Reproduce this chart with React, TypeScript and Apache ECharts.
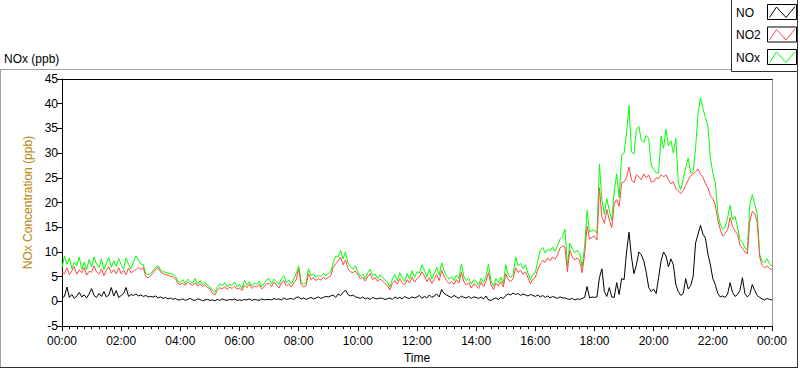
import React, { useEffect, useRef } from "react";
import * as echarts from "echarts";

const STEP_MIN = 5;
const X_TICK_LABELS = ["00:00", "02:00", "04:00", "06:00", "08:00", "10:00", "12:00", "14:00", "16:00", "18:00", "20:00", "22:00", "00:00"];
const SERIES_NAMES = ["NO", "NO2", "NOx"];
const SERIES_COLORS = ["#000000", "#ff4848", "#00ff00"];

// 5-minute values, one row per hour (00:00 ... 23:55), final value at 24:00
const NO = [
  0.7, 1.0, 2.9, 0.8, 1.4, 0.6, 1.1, 1.8, 0.9, 1.3, 0.7, 1.5,
  2.6, 1.2, 0.8, 1.6, 1.0, 2.0, 0.9, 1.3, 2.8, 1.1, 2.2, 0.8,
  1.2, 1.6, 2.8, 1.0, 1.4, 1.2, 1.5, 1.1, 1.3, 1.0, 1.2, 0.9,
  1.0, 0.9, 1.1, 0.7, 0.9, 0.6, 0.8, 0.5, 0.7, 0.4, 0.6, 0.3,
  0.3, 0.5, 0.2, 0.4, 0.6, 0.3, 0.2, 0.5, 0.4, 0.1, 0.3, 0.4,
  0.2, 0.3, 0.1, 0.4, 0.2, 0.5, 0.3, 0.2, 0.4, 0.3, 0.5, 0.2,
  0.3, 0.2, 0.4, 0.3, 0.5, 0.2, 0.4, 0.3, 0.2, 0.5, 0.3, 0.4,
  0.4, 0.3, 0.6, 0.4, 0.5, 0.3, 0.7, 0.4, 0.5, 0.6, 0.4, 0.8,
  0.9, 0.5, 0.7, 0.4, 0.6, 0.8, 0.5, 0.7, 0.9, 0.6, 0.8, 1.0,
  0.9, 1.1, 1.3, 0.8, 1.5, 1.2, 1.8, 2.3, 1.4, 1.1, 1.3, 0.9,
  0.8, 0.6, 0.9, 0.5, 0.7, 0.4, 0.8, 0.6, 0.5, 0.7, 0.6, 0.4,
  0.5, 0.7, 0.4, 0.9, 0.6, 0.8, 0.5, 1.0, 0.7, 0.6, 0.9, 0.7,
  0.9, 1.2, 0.6, 1.0, 0.7, 1.3, 0.8, 1.1, 1.5, 0.9, 2.4, 1.6,
  1.3, 1.0, 0.8, 1.2, 0.9, 0.6, 1.1, 0.8, 0.7, 1.0, 0.6, 0.9,
  0.8, 0.6, 0.9, 0.5, 1.1, 0.3, 0.2, 0.5, 0.7, 0.4, 0.8, 0.6,
  1.2, 1.5, 1.3, 1.7, 1.4, 1.6, 1.2, 1.5, 1.3, 1.1, 1.4, 1.2,
  1.0, 1.3, 0.9, 1.2, 0.8, 1.1, 0.7, 1.0, 0.8, 0.6, 0.9, 0.7,
  0.7, 0.5, 0.4, 0.6, 0.3, 0.5, 0.4, 0.6, 0.8, 3.0, 0.7, 0.9,
  0.8, 0.9, 4.8, 6.6, 2.0, 1.0, 2.8, 0.9, 0.8, 3.8, 1.4, 4.6,
  4.4, 10.0, 14.0, 9.0, 5.6, 7.4, 10.0, 9.4, 8.2, 5.8, 2.8, 2.0,
  2.5, 1.6, 4.8, 8.2, 10.0, 9.2, 7.0, 8.6, 7.4, 3.4, 2.0, 1.2,
  1.6, 4.6, 2.5, 3.2, 5.0, 11.8, 13.6, 15.4, 13.6, 12.8, 9.6, 7.4,
  4.6, 3.4, 1.6, 0.9, 1.1, 0.8, 1.5, 3.8, 1.8, 1.0, 1.4, 2.2,
  4.8, 1.6, 0.9, 1.4, 3.4, 2.2, 1.2, 0.8, 0.5, 0.3, 0.6, 0.4,
  0.3,
];

const NO2 = [
  6.0, 5.6, 6.8, 5.4, 6.2, 7.0, 5.5, 6.4, 5.8, 6.9, 5.3, 6.1,
  5.9, 7.2, 6.0, 5.5, 6.6, 5.2, 6.3, 7.0, 5.7, 6.4, 5.6, 6.8,
  5.6, 6.3, 5.4, 6.8, 5.8, 6.1, 6.4, 6.9, 6.5, 6.8, 5.0, 4.8,
  5.2, 5.8, 6.5, 6.8, 6.0, 5.6, 5.4, 5.3, 5.1, 5.0, 4.6, 3.6,
  3.4, 3.7, 3.2, 3.9, 3.5, 3.3, 3.8, 3.1, 3.6, 3.0, 3.4, 2.8,
  2.6, 1.6, 1.3, 2.2, 2.8, 2.5, 3.0, 2.4, 2.9, 2.6, 3.1, 2.5,
  2.7, 2.2, 3.3, 2.8, 3.5, 2.6, 3.1, 2.9, 3.4, 2.5, 3.0, 3.6,
  3.6, 3.0, 3.9, 3.3, 2.7, 3.8, 4.2, 3.1, 3.6, 2.9, 3.7, 4.4,
  6.5, 3.4, 2.9, 3.2, 5.6, 4.4, 4.8, 4.2, 4.6, 4.3, 4.9, 4.5,
  4.8, 5.2, 6.9, 7.6, 8.2, 9.0, 7.4, 8.4, 6.6, 6.0, 5.8, 6.2,
  5.4, 4.6, 4.9, 4.1, 5.0, 5.6, 4.4, 4.8, 4.0, 4.5, 4.2, 3.6,
  3.2, 2.3, 3.6, 4.2, 3.5, 4.6, 3.8, 3.3, 4.4, 3.7, 4.9, 3.9,
  4.6, 5.0, 6.0, 5.2, 4.0, 4.8, 3.6, 4.5, 5.4, 4.2, 6.3, 5.1,
  4.2, 3.6, 4.0, 3.4, 4.4, 3.7, 5.9, 4.0, 3.3, 3.8, 2.7, 3.5,
  3.3, 2.6, 3.9, 3.0, 4.1, 5.8, 3.4, 2.4, 3.7, 3.1, 4.0, 2.9,
  5.6, 4.4, 4.0, 4.6, 6.8, 5.9, 6.3, 5.5, 6.0, 4.8, 3.6, 4.5,
  4.8, 6.5, 7.6, 8.3, 7.9, 8.8, 8.2, 9.0, 8.5, 9.4, 10.8, 11.2,
  11.0, 6.0, 10.4, 9.0, 8.4, 8.8, 8.2, 5.8, 9.6, 15.2, 12.6, 13.0,
  13.2, 12.4, 23.0, 17.0, 15.8, 18.6, 16.5, 14.9, 19.8, 20.6, 19.2, 24.0,
  24.2, 25.0, 27.2, 24.6, 24.0, 25.6, 25.2, 24.6, 25.8, 25.0, 25.6, 24.2,
  24.2, 25.0, 24.8, 25.6, 25.2, 25.6, 24.6, 23.8, 24.2, 22.8, 22.4, 21.8,
  22.4, 23.5, 24.5, 25.5, 25.8, 26.2, 26.8, 25.8, 25.2, 23.8, 23.0, 21.4,
  20.8, 19.5, 16.5, 14.6, 13.2, 13.8, 14.5, 17.0, 15.2, 14.2, 13.6, 11.4,
  10.8, 10.0, 9.6, 16.2, 18.2, 17.8, 16.0, 9.0, 7.3, 6.8, 7.2, 6.6,
  6.4,
];

const NOX = [
  6.8, 9.2, 7.5, 8.8, 6.6, 8.0, 7.2, 9.0, 6.5, 7.9, 6.4, 8.5,
  7.0, 9.0, 7.6, 6.8, 8.6, 6.4, 7.8, 8.9, 6.9, 8.2, 7.1, 8.7,
  7.4, 6.5, 8.8, 7.5, 6.6, 8.0, 9.2, 8.4, 7.6, 7.4, 5.6, 5.4,
  5.6, 6.3, 6.9, 7.2, 6.4, 6.0, 5.9, 5.7, 5.6, 5.5, 5.1, 4.1,
  3.8, 4.4, 3.6, 4.5, 4.0, 3.7, 4.6, 3.5, 4.2, 3.4, 3.9, 3.2,
  3.0, 2.2, 1.8, 2.8, 3.6, 3.1, 3.8, 2.9, 3.5, 3.2, 3.9, 3.0,
  3.4, 2.6, 4.2, 3.3, 4.0, 3.1, 3.7, 3.4, 4.1, 3.0, 3.6, 4.4,
  4.6, 3.6, 4.5, 3.9, 3.4, 4.6, 5.2, 3.8, 4.3, 3.6, 4.5, 5.6,
  7.2, 4.0, 3.4, 3.8, 6.6, 5.2, 5.5, 4.9, 5.3, 5.0, 5.6, 5.2,
  5.6, 6.0, 7.8, 9.2, 9.0, 10.3, 8.6, 10.0, 7.8, 7.0, 6.5, 7.2,
  6.0, 5.1, 5.5, 4.6, 5.8, 6.5, 5.2, 5.6, 4.6, 5.4, 4.9, 4.3,
  3.9, 2.9, 4.5, 5.4, 4.2, 5.8, 4.7, 4.0, 5.6, 4.5, 6.2, 4.8,
  6.0, 5.8, 7.4, 6.3, 4.9, 6.6, 4.5, 5.6, 6.9, 5.3, 7.8, 6.2,
  5.1, 4.5, 5.0, 4.2, 5.3, 4.6, 7.6, 5.0, 4.2, 4.7, 3.5, 4.4,
  4.1, 3.3, 4.7, 3.8, 5.0, 7.5, 4.2, 3.1, 4.6, 3.8, 4.9, 3.6,
  7.4, 5.3, 4.8, 5.5, 9.0, 7.2, 7.7, 6.6, 7.4, 5.7, 4.4, 5.5,
  5.8, 8.2, 10.4, 10.9, 9.8, 10.6, 10.2, 11.0, 10.1, 11.2, 12.6, 13.0,
  14.6, 7.2, 11.8, 10.6, 9.8, 10.4, 9.6, 7.0, 11.2, 18.4, 14.0, 14.4,
  14.4, 13.8, 27.8, 20.5, 17.6, 20.8, 18.4, 16.4, 22.2, 25.8, 21.0, 29.6,
  30.0, 34.0, 39.6, 30.4, 29.8, 34.8, 35.4, 32.6, 32.2, 33.6, 33.0, 27.4,
  26.8, 26.0, 26.0, 33.5, 31.0, 34.8, 31.5, 32.5, 30.0, 33.0, 24.0, 22.6,
  24.8, 27.0, 29.0, 26.0, 26.2, 31.0, 38.0, 41.2, 39.0, 37.2, 35.5, 29.0,
  26.0, 24.0, 18.0, 15.6, 14.6, 15.0, 17.0, 19.4, 16.5, 17.2, 15.0, 12.5,
  12.0, 10.8, 10.5, 19.5, 21.6, 19.8, 17.6, 9.5, 8.2, 7.8, 8.6, 7.6,
  7.2,
];

const FONT = "'Liberation Sans', Arial, sans-serif";

export default function App() {
  const ref = useRef<HTMLDivElement>(null);

  useEffect(() => {
    const chart = echarts.init(ref.current!, null, { renderer: "svg" });
    const toPairs = (arr: number[]) => arr.map((v, i) => [i * STEP_MIN, v]);
    const seriesData = [NO, NO2, NOX];

    const legendItems: any[] = [];
    SERIES_NAMES.forEach((name, i) => {
      const y0 = 4.5 + i * 22.5;
      legendItems.push({
        type: "text",
        style: { x: 736, y: y0 + 8, text: name, fill: "#000", font: `12px ${FONT}`, verticalAlign: "middle" },
      });
      legendItems.push({
        type: "rect",
        shape: { x: 767.5, y: y0, width: 29, height: 15 },
        style: { fill: "#fff", stroke: "#000", lineWidth: 1 },
      });
      legendItems.push({
        type: "polyline",
        shape: { points: [[769.5, y0 + 13], [776.5, y0 + 2.5], [786, y0 + 13], [795, y0 + 2]] },
        style: { stroke: SERIES_COLORS[i], lineWidth: 1, fill: "none" },
      });
    });

    const option: any = {
      animation: false,
      backgroundColor: "#ffffff",
      textStyle: { fontFamily: FONT },
      grid: { left: 62, right: 28, top: 79, bottom: 40, containLabel: false },
      xAxis: [
        {
          type: "value",
          min: 0,
          max: 1440,
          interval: 120,
          position: "bottom",
          name: "Time",
          nameLocation: "middle",
          nameGap: 25,
          nameTextStyle: { color: "#000", fontSize: 12, fontFamily: FONT },
          axisLine: { show: true, onZero: false, lineStyle: { color: "#000", width: 1 } },
          axisTick: { show: true, length: 5, lineStyle: { color: "#000" } },
          minorTick: { show: true, splitNumber: 8, length: 3, lineStyle: { color: "#000" } },
          axisLabel: {
            color: "#000",
            fontSize: 12,
            fontFamily: FONT,
            margin: 9,
            formatter: (v: number) => X_TICK_LABELS[Math.round(v / 120)] ?? "",
          },
          splitLine: { show: false },
          minorSplitLine: { show: false },
        },
        {
          type: "value",
          min: 0,
          max: 1440,
          position: "top",
          axisLine: { show: true, onZero: false, lineStyle: { color: "#000", width: 1 } },
          axisTick: { show: false },
          axisLabel: { show: false },
          splitLine: { show: false },
        },
      ],
      yAxis: [
        {
          type: "value",
          min: -5,
          max: 45,
          interval: 5,
          position: "left",
          name: "NOx Concentration (ppb)",
          nameLocation: "middle",
          nameGap: 24,
          nameTextStyle: { color: "#b8860b", fontSize: 12, fontFamily: FONT },
          axisLine: { show: true, onZero: false, lineStyle: { color: "#000", width: 1 } },
          axisTick: { show: true, length: 5, lineStyle: { color: "#000" } },
          axisLabel: { color: "#000", fontSize: 12, fontFamily: FONT, margin: 4 },
          splitLine: { show: false },
        },
        {
          type: "value",
          min: -5,
          max: 45,
          position: "right",
          axisLine: { show: true, onZero: false, lineStyle: { color: "#9a9a9a", width: 1 } },
          axisTick: { show: false },
          axisLabel: { show: false },
          splitLine: { show: false },
        },
      ],
      series: [2, 1, 0].map((i) => ({
        name: SERIES_NAMES[i],
        type: "line",
        data: toPairs(seriesData[i]),
        showSymbol: false,
        symbol: "none",
        silent: true,
        lineStyle: { color: SERIES_COLORS[i], width: 1 },
        itemStyle: { color: SERIES_COLORS[i] },
      })),
      graphic: [
        { type: "line", shape: { x1: 0, y1: 69.5, x2: 731, y2: 69.5 }, style: { stroke: "#a0a0a0", lineWidth: 1 } },
        { type: "line", shape: { x1: 0.5, y1: 69.5, x2: 0.5, y2: 368 }, style: { stroke: "#a0a0a0", lineWidth: 1 } },
        { type: "line", shape: { x1: 0, y1: 367.5, x2: 798, y2: 367.5 }, style: { stroke: "#303030", lineWidth: 1 } },
        { type: "line", shape: { x1: 797.5, y1: 71, x2: 797.5, y2: 368 }, style: { stroke: "#303030", lineWidth: 1 } },
        {
          type: "text",
          style: { x: 4, y: 59, text: "NOx (ppb)", fill: "#000", font: `12px ${FONT}`, verticalAlign: "middle" },
        },
        {
          type: "rect",
          shape: { x: 731.5, y: -1, width: 66, height: 72.5 },
          style: { fill: "#fff", stroke: "#303030", lineWidth: 1 },
        },
        ...legendItems,
      ],
    };

    chart.setOption(option);
    return () => chart.dispose();
  }, []);

  return (
    <div
      ref={ref}
      style={{ position: "fixed", left: 0, top: 0, width: 800, height: 369, background: "#fff" }}
    />
  );
}
